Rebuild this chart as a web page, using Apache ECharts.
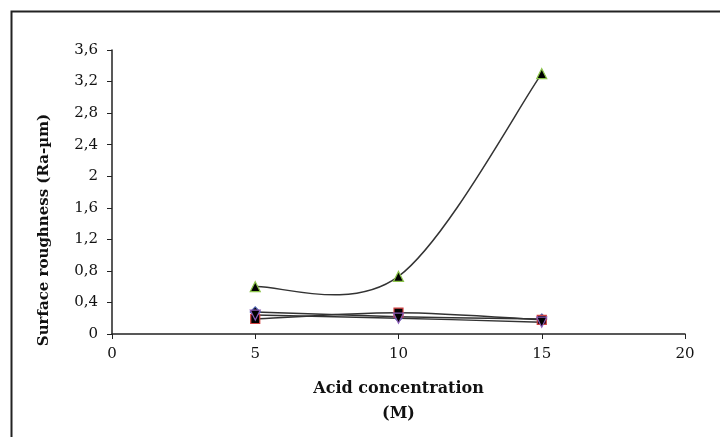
<!DOCTYPE html>
<html><head><meta charset="utf-8">
<script src="https://cdn.jsdelivr.net/npm/echarts@6/dist/echarts.min.js"></script>
<style>html,body{margin:0;padding:0;background:#fff}#c{width:720px;height:437px}</style>
</head><body><div id="c"></div>
<script>
const xValues = [5, 10, 15];
const seriesA = [0.28, 0.22, 0.19];   // diamond, blue edge
const seriesB = [0.19, 0.27, 0.18];   // square, red edge
const seriesC = [0.60, 0.73, 3.30];   // triangle, green edge
const seriesD = [0.24, 0.20, 0.15];   // purple edge
const xTicks = [0, 5, 10, 15, 20];
const yTicks = [0, 0.4, 0.8, 1.2, 1.6, 2, 2.4, 2.8, 3.2, 3.6];

const pairs = arr => xValues.map((x, i) => [x, arr[i]]);
const fmt = v => String(Math.round(v * 10) / 10).replace('.', ',');
const font = '"DejaVu Serif", "Liberation Serif", serif';

// Excel-like smoothed line (Catmull-Rom style Bezier) drawn through the axis scales
function smoothLine(name, data) {
  const pts = pairs(data);
  return {
    name: name + '-line', type: 'custom', data: pts, z: 2, silent: true,
    renderItem: function (params, api) {
      const i = params.dataIndex;
      if (i >= pts.length - 1) return null;
      const c = k => api.coord(pts[Math.max(0, Math.min(pts.length - 1, k))]);
      const p0 = c(i - 1), p1 = c(i), p2 = c(i + 1), p3 = c(i + 2);
      const t = 1 / 6;
      return {
        type: 'bezierCurve',
        shape: {
          x1: p1[0], y1: p1[1], x2: p2[0], y2: p2[1],
          cpx1: p1[0] + (p2[0] - p0[0]) * t, cpy1: p1[1] + (p2[1] - p0[1]) * t,
          cpx2: p2[0] - (p3[0] - p1[0]) * t, cpy2: p2[1] - (p3[1] - p1[1]) * t
        },
        style: { fill: 'none', stroke: '#333', lineWidth: 1.5 }
      };
    }
  };
}

function marks(name, data, symbol, edge, size, rot) {
  return {
    name, type: 'scatter', data: pairs(data), z: 3,
    symbol, symbolSize: size, symbolRotate: rot || 0,
    itemStyle: { color: '#000', borderColor: edge, borderWidth: 1.2, opacity: 1 }
  };
}

const chart = echarts.init(document.getElementById('c'));
chart.setOption({
  animation: false,
  backgroundColor: '#fff',
  grid: { left: 112, right: 35, top: 50, bottom: 103 },
  graphic: [{
    type: 'rect', left: 9, top: 9, silent: true,
    shape: { width: 730, height: 450 },
    style: { fill: 'none', stroke: '#222', lineWidth: 2 }
  }],
  xAxis: {
    type: 'value', min: 0, max: 20, interval: 5,
    name: 'Acid concentration\n(M)', nameLocation: 'middle', nameGap: 42,
    nameTextStyle: { fontFamily: font, fontWeight: 'bold', fontSize: 16, color: '#111', lineHeight: 25 },
    axisLine: { lineStyle: { color: '#222', width: 1.5 } },
    axisTick: { show: true, length: 5, lineStyle: { color: '#222' } },
    axisLabel: { fontFamily: font, fontSize: 15, color: '#111', margin: 13 },
    splitLine: { show: false }
  },
  yAxis: {
    type: 'value', min: 0, max: 3.6, interval: 0.4,
    name: 'Surface roughness (Ra-µm)', nameLocation: 'middle', nameGap: 60, nameRotate: 90,
    nameTextStyle: { fontFamily: font, fontWeight: 'bold', fontSize: 15, color: '#111', padding: [0, 76, 0, 0] },
    axisLine: { show: true, lineStyle: { color: '#222', width: 1.5 } },
    axisTick: { show: true, length: 5, lineStyle: { color: '#222' } },
    axisLabel: { fontFamily: font, fontSize: 15, color: '#111', margin: 14, formatter: fmt },
    splitLine: { show: false }
  },
  series: [
    smoothLine('A', seriesA),
    smoothLine('B', seriesB),
    smoothLine('C', seriesC),
    smoothLine('D', seriesD),
    marks('A', seriesA, 'diamond', '#4a5fb0', 10),
    marks('B', seriesB, 'rect', '#d04040', 9),
    marks('C', seriesC, 'triangle', '#8bc34a', 10),
    marks('D', seriesD, 'triangle', '#8a5cb8', 10, 180)
  ]
});
</script></body></html>
